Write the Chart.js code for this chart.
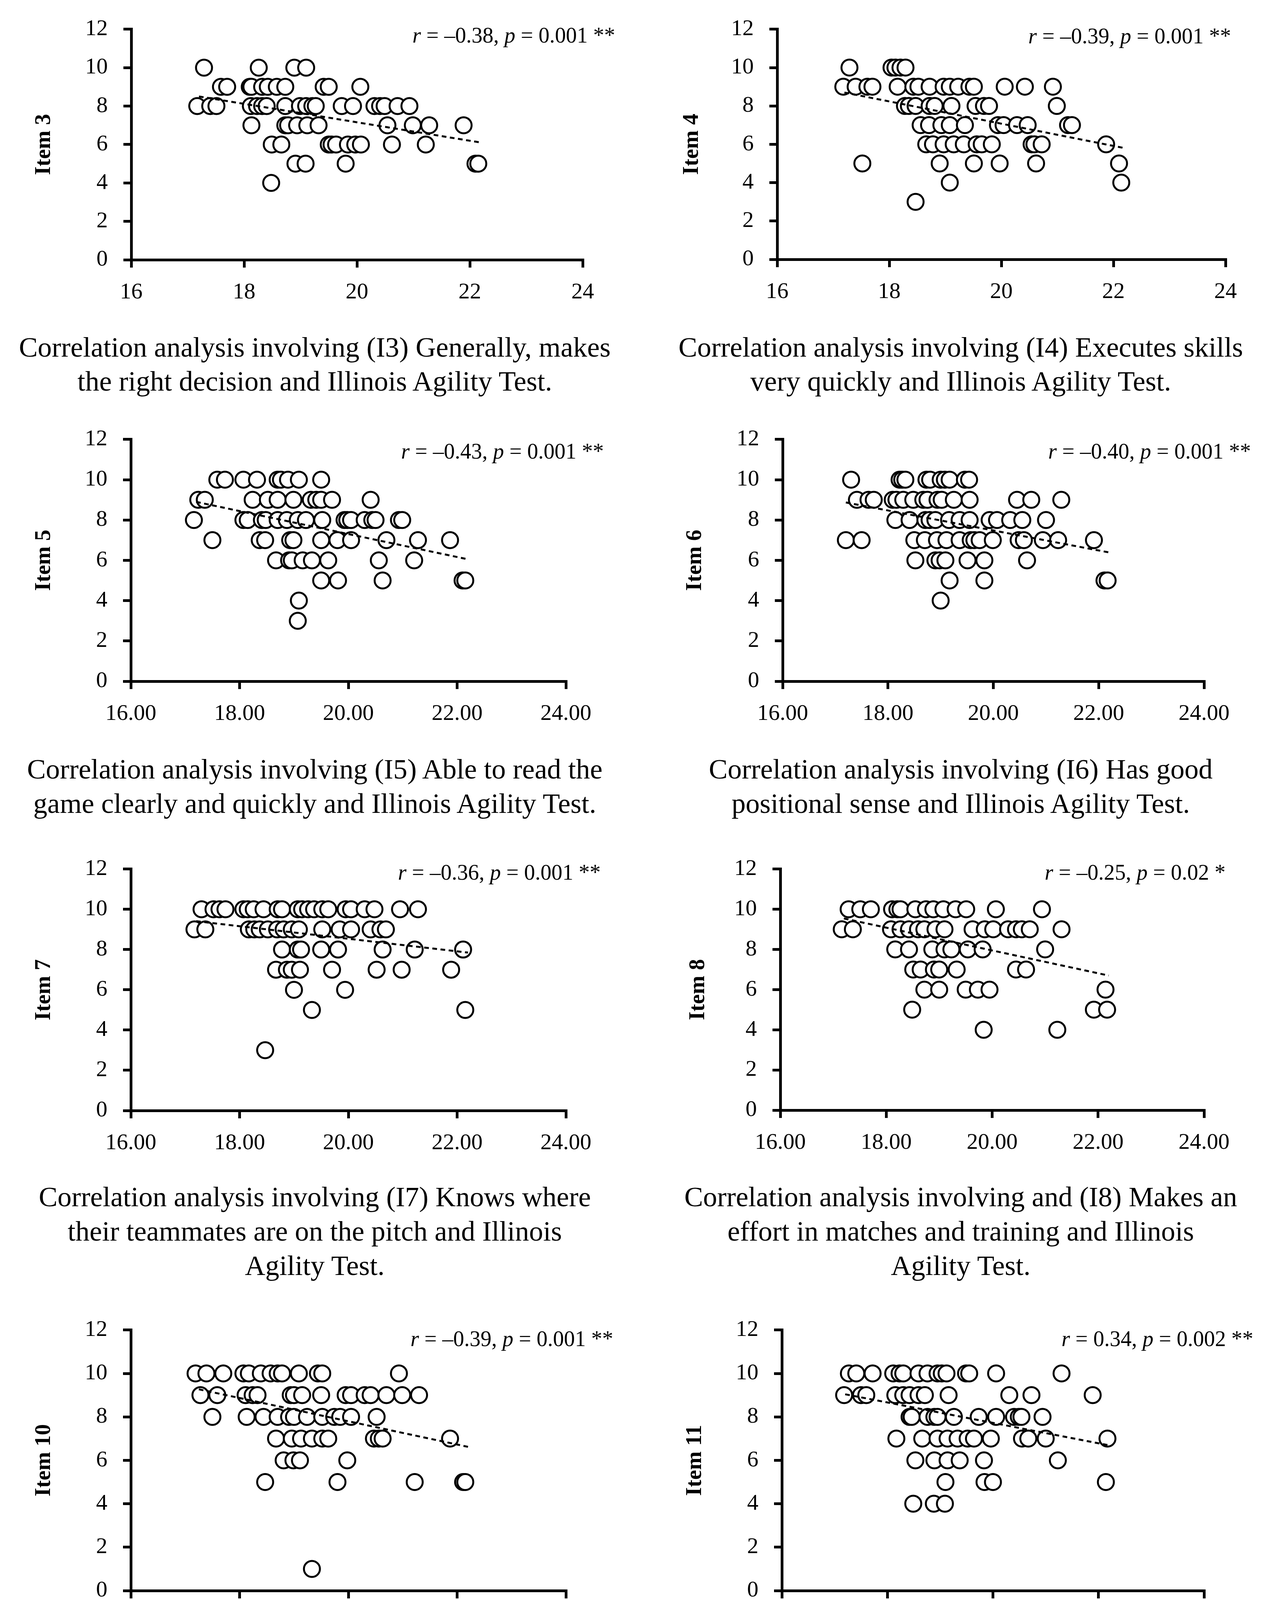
<!DOCTYPE html>
<html>
<head>
<meta charset="utf-8">
<script src="https://cdn.jsdelivr.net/npm/chart.js@4.4.0/dist/chart.umd.min.js"></script>
<style>
html, body { margin: 0; padding: 0; background: #fff; }
body { width: 3234px; height: 4547px; position: relative; overflow: hidden; font-family: 'Liberation Serif', serif; color: #000; }
.panel { position: absolute; }
.caption { position: absolute; width: 1640px; text-align: center; font-size: 72px; white-space: nowrap; }
.stat { position: absolute; font-size: 56px; line-height: 56px; white-space: nowrap; text-align: right; }
</style>
</head>
<body>
<script>
// Illinois Agility Test time (s) vs item score, one x/y pair of arrays per item
var item3X = [17.29, 18.26, 18.89, 19.10,
    17.59, 17.70, 18.10, 18.13, 18.32, 18.42, 18.58, 18.73, 19.41, 19.50, 20.06,
    17.17, 17.40, 17.51, 18.12, 18.23, 18.32, 18.40, 18.73, 18.99, 19.10, 19.21, 19.27, 19.73, 19.93, 20.31, 20.41, 20.49, 20.72, 20.93,
    18.13, 18.73, 18.78, 18.94, 19.12, 19.32, 20.54, 20.99, 21.28, 21.89,
    18.49, 18.66, 19.50, 19.55, 19.63, 19.84, 19.97, 20.07, 20.62, 21.22,
    18.91, 19.09, 19.80, 22.10, 22.15,
    18.48];
var item3Y = [10, 10, 10, 10,
    9, 9, 9, 9, 9, 9, 9, 9, 9, 9, 9,
    8, 8, 8, 8, 8, 8, 8, 8, 8, 8, 8, 8, 8, 8, 8, 8, 8, 8, 8,
    7, 7, 7, 7, 7, 7, 7, 7, 7, 7,
    6, 6, 6, 6, 6, 6, 6, 6, 6, 6,
    5, 5, 5, 5, 5,
    4];

var item4X = [17.29, 18.04, 18.11, 18.20, 18.29,
    17.18, 17.40, 17.61, 17.70, 18.15, 18.43, 18.52, 18.72, 18.97, 19.08, 19.23, 19.43, 19.51, 20.06, 20.42, 20.92,
    18.28, 18.35, 18.47, 18.72, 18.81, 19.11, 19.54, 19.69, 19.78, 20.99,
    18.56, 18.71, 18.93, 19.08, 19.35, 19.94, 20.04, 20.28, 20.47, 21.19, 21.26,
    18.66, 18.78, 18.97, 19.15, 19.33, 19.56, 19.65, 19.83, 20.54, 20.59, 20.72, 21.87,
    17.52, 18.90, 19.51, 19.97, 20.62, 22.10,
    19.08, 22.14,
    18.47];
var item4Y = [10, 10, 10, 10, 10,
    9, 9, 9, 9, 9, 9, 9, 9, 9, 9, 9, 9, 9, 9, 9, 9,
    8, 8, 8, 8, 8, 8, 8, 8, 8, 8,
    7, 7, 7, 7, 7, 7, 7, 7, 7, 7, 7,
    6, 6, 6, 6, 6, 6, 6, 6, 6, 6, 6, 6,
    5, 5, 5, 5, 5, 5,
    4, 4,
    3];

var item5X = [17.59, 17.73, 18.07, 18.32, 18.70, 18.76, 18.89, 19.09, 19.50,
    17.24, 17.36, 18.24, 18.52, 18.70, 18.99, 19.31, 19.41, 19.50, 19.70, 20.41,
    17.16, 18.07, 18.15, 18.41, 18.48, 18.70, 18.87, 19.07, 19.22, 19.52, 19.93, 19.98, 20.05, 20.30, 20.44, 20.50, 20.93, 20.99,
    17.50, 18.37, 18.47, 18.93, 18.99, 19.50, 19.80, 20.05, 20.70, 21.28, 21.87,
    18.67, 18.91, 18.96, 19.16, 19.33, 19.63, 20.56, 21.21,
    19.50, 19.81, 20.63, 22.10, 22.15,
    19.09,
    19.07];
var item5Y = [10, 10, 10, 10, 10, 10, 10, 10, 10,
    9, 9, 9, 9, 9, 9, 9, 9, 9, 9, 9,
    8, 8, 8, 8, 8, 8, 8, 8, 8, 8, 8, 8, 8, 8, 8, 8, 8, 8,
    7, 7, 7, 7, 7, 7, 7, 7, 7, 7, 7,
    6, 6, 6, 6, 6, 6, 6, 6,
    5, 5, 5, 5, 5,
    4,
    3];

var item6X = [17.30, 18.22, 18.27, 18.33, 18.73, 18.80, 19.00, 19.08, 19.17, 19.46, 19.54,
    17.41, 17.63, 17.73, 18.09, 18.16, 18.29, 18.48, 18.67, 18.75, 18.94, 19.02, 19.25, 19.55, 20.45, 20.72, 21.29,
    18.14, 18.41, 18.71, 18.79, 18.90, 19.16, 19.36, 19.55, 19.93, 20.07, 20.32, 20.55, 21.00,
    17.20, 17.50, 18.50, 18.70, 18.93, 19.11, 19.36, 19.57, 19.64, 19.74, 19.99, 20.48, 20.58, 20.94, 21.23, 21.91,
    18.52, 18.90, 18.98, 19.09, 19.51, 19.83, 20.64,
    19.17, 19.83, 22.11, 22.17,
    19.00];
var item6Y = [10, 10, 10, 10, 10, 10, 10, 10, 10, 10, 10,
    9, 9, 9, 9, 9, 9, 9, 9, 9, 9, 9, 9, 9, 9, 9, 9,
    8, 8, 8, 8, 8, 8, 8, 8, 8, 8, 8, 8, 8,
    7, 7, 7, 7, 7, 7, 7, 7, 7, 7, 7, 7, 7, 7, 7, 7,
    6, 6, 6, 6, 6, 6, 6,
    5, 5, 5, 5,
    4];

var item7X = [17.30, 17.52, 17.63, 17.74, 18.07, 18.15, 18.26, 18.44, 18.70, 18.78, 19.07, 19.15, 19.26, 19.37, 19.52, 19.63, 19.95, 20.05, 20.30, 20.48, 20.95, 21.28,
    17.17, 17.37, 18.17, 18.27, 18.37, 18.52, 18.69, 18.81, 18.96, 19.09, 19.52, 19.84, 20.05, 20.41, 20.59, 20.69,
    18.78, 19.07, 19.13, 19.50, 19.81, 20.63, 21.22, 22.11,
    18.67, 18.87, 18.96, 19.11, 19.70, 20.52, 20.98, 21.89,
    19.00, 19.94,
    19.33, 22.15,
    18.47];
var item7Y = [10, 10, 10, 10, 10, 10, 10, 10, 10, 10, 10, 10, 10, 10, 10, 10, 10, 10, 10, 10, 10, 10,
    9, 9, 9, 9, 9, 9, 9, 9, 9, 9, 9, 9, 9, 9, 9, 9,
    8, 8, 8, 8, 8, 8, 8, 8,
    7, 7, 7, 7, 7, 7, 7, 7,
    6, 6,
    5, 5,
    3];

var item8X = [17.29, 17.51, 17.71, 18.11, 18.21, 18.27, 18.55, 18.75, 18.89, 19.08, 19.31, 19.51, 20.07, 20.94,
    17.16, 17.37, 18.09, 18.27, 18.43, 18.60, 18.72, 18.93, 19.10, 19.63, 19.86, 20.02, 20.30, 20.45, 20.56, 20.71, 21.31,
    18.17, 18.43, 18.87, 19.10, 19.23, 19.54, 19.82, 21.00,
    18.51, 18.65, 18.90, 19.00, 19.33, 20.45, 20.64,
    18.72, 19.00, 19.50, 19.73, 19.95, 22.14,
    18.49, 21.92, 22.17,
    19.84, 21.23];
var item8Y = [10, 10, 10, 10, 10, 10, 10, 10, 10, 10, 10, 10, 10, 10,
    9, 9, 9, 9, 9, 9, 9, 9, 9, 9, 9, 9, 9, 9, 9, 9, 9,
    8, 8, 8, 8, 8, 8, 8, 8,
    7, 7, 7, 7, 7, 7, 7,
    6, 6, 6, 6, 6, 6,
    5, 5, 5,
    4, 4];

var item10X = [17.19, 17.39, 17.70, 18.07, 18.17, 18.39, 18.57, 18.70, 18.78, 19.09, 19.44, 19.52, 20.93,
    17.28, 17.59, 18.11, 18.24, 18.33, 18.94, 19.00, 19.15, 19.50, 19.95, 20.05, 20.30, 20.41, 20.70, 20.99, 21.30,
    17.50, 18.13, 18.44, 18.70, 18.91, 19.00, 19.24, 19.52, 19.74, 19.85, 20.05, 20.52,
    18.67, 18.96, 19.13, 19.33, 19.52, 19.63, 20.47, 20.56, 20.63, 21.87,
    18.81, 18.99, 19.11, 19.98,
    18.47, 19.80, 21.22, 22.11, 22.15,
    19.33];
var item10Y = [10, 10, 10, 10, 10, 10, 10, 10, 10, 10, 10, 10, 10,
    9, 9, 9, 9, 9, 9, 9, 9, 9, 9, 9, 9, 9, 9, 9, 9,
    8, 8, 8, 8, 8, 8, 8, 8, 8, 8, 8, 8,
    7, 7, 7, 7, 7, 7, 7, 7, 7, 7,
    6, 6, 6, 6,
    5, 5, 5, 5, 5,
    1];

var item11X = [17.27, 17.41, 17.72, 18.11, 18.23, 18.30, 18.59, 18.76, 18.95, 19.03, 19.12, 19.49, 19.55, 20.06, 21.30,
    17.18, 17.50, 17.60, 18.15, 18.30, 18.42, 18.59, 18.71, 19.16, 20.31, 20.73, 21.89,
    18.42, 18.46, 18.76, 18.89, 18.95, 19.26, 19.73, 20.06, 20.40, 20.49, 20.54, 20.94,
    18.17, 18.66, 18.95, 19.14, 19.33, 19.52, 19.64, 19.96, 20.55, 20.67, 21.00, 22.17,
    18.53, 18.89, 19.14, 19.37, 19.83, 21.23,
    19.10, 19.84, 20.00, 22.14,
    18.49, 18.88, 19.09];
var item11Y = [10, 10, 10, 10, 10, 10, 10, 10, 10, 10, 10, 10, 10, 10, 10,
    9, 9, 9, 9, 9, 9, 9, 9, 9, 9, 9, 9,
    8, 8, 8, 8, 8, 8, 8, 8, 8, 8, 8, 8,
    7, 7, 7, 7, 7, 7, 7, 7, 7, 7, 7, 7,
    6, 6, 6, 6, 6, 6,
    5, 5, 5, 5,
    4, 4, 4];

// dashed trend lines, end points
var trend3X = [17.20, 22.20], trend3Y = [8.50, 6.10];
var trend4X = [17.20, 22.20], trend4Y = [8.70, 5.80];
var trend5X = [17.20, 22.20], trend5Y = [8.90, 6.05];
var trend6X = [17.20, 22.20], trend6Y = [8.87, 6.39];
var trend7X = [17.20, 22.20], trend7Y = [9.41, 7.85];
var trend8X = [17.20, 22.20], trend8Y = [9.54, 6.70];
var trend10X = [17.25, 22.20], trend10Y = [9.27, 6.62];
var trend11X = [17.20, 22.20], trend11Y = [9.04, 6.69];

// tick labels
var xTicksWhole = ['16', '18', '20', '22', '24'];
var xTicksFixed = ['16.00', '18.00', '20.00', '22.00', '24.00'];

var itemNames = ['Item 3', 'Item 4', 'Item 5', 'Item 6', 'Item 7', 'Item 8', 'Item 10', 'Item 11'];

var statTexts = [
    '<i>r</i> = \u20130.38, <i>p</i> = 0.001 **',
    '<i>r</i> = \u20130.39, <i>p</i> = 0.001 **',
    '<i>r</i> = \u20130.43, <i>p</i> = 0.001 **',
    '<i>r</i> = \u20130.40, <i>p</i> = 0.001 **',
    '<i>r</i> = \u20130.36, <i>p</i> = 0.001 **',
    '<i>r</i> = \u20130.25, <i>p</i> = 0.02 *',
    '<i>r</i> = \u20130.39, <i>p</i> = 0.001 **',
    '<i>r</i> = 0.34, <i>p</i> = 0.002 **'
];

var captions = [
    ['Correlation analysis involving (I3) Generally, makes', 'the right decision and Illinois Agility Test.'],
    ['Correlation analysis involving (I4) Executes skills', 'very quickly and Illinois Agility Test.'],
    ['Correlation analysis involving (I5) Able to read the', 'game clearly and quickly and Illinois Agility Test.'],
    ['Correlation analysis involving (I6) Has good', 'positional sense and Illinois Agility Test.'],
    ['Correlation analysis involving (I7) Knows where', 'their teammates are on the pitch and Illinois', 'Agility Test.'],
    ['Correlation analysis involving and (I8) Makes an', 'effort in matches and training and Illinois', 'Agility Test.'],
    ['Correlation analysis involving (I10) Able to', 'concentrate in matches and training and Illinois', 'Agility Test.'],
    ['Correlation analysis involving (I11) Possesses a', 'winning mentality and Illinois Agility Test.']
];

// page layout (pixels): panel box, plot area, caption and stat positions
var layout = [
    {left: 0,    top: 0,    h: 805, plotL: 336,  plotR: 1492, plotT: 50,   plotB: 665,  titleX: 113, capX: 806,  capY: 889,  capLH: 87, statR: 1575, statY: 90},
    {left: 1617, top: 0,    h: 805, plotL: 1990, plotR: 3138, plotT: 50,   plotB: 664,  titleX: 1772, capX: 2460, capY: 889,  capLH: 87, statR: 3152, statY: 92},
    {left: 0,    top: 1050, h: 835, plotL: 335,  plotR: 1449, plotT: 1112, plotB: 1744, titleX: 113, capX: 806,  capY: 1969, capLH: 88, statR: 1546, statY: 1155},
    {left: 1617, top: 1050, h: 835, plotL: 2004, plotR: 3083, plotT: 1112, plotB: 1744, titleX: 1780, capX: 2460, capY: 1969, capLH: 88, statR: 3203, statY: 1155},
    {left: 0,    top: 2150, h: 834, plotL: 335,  plotR: 1449, plotT: 2191, plotB: 2843, titleX: 113, capX: 806,  capY: 3064, capLH: 88, statR: 1538, statY: 2233},
    {left: 1617, top: 2150, h: 833, plotL: 1998, plotR: 3083, plotT: 2191, plotB: 2842, titleX: 1788, capX: 2460, capY: 3064, capLH: 88, statR: 3138, statY: 2233},
    {left: 0,    top: 3330, h: 883, plotL: 335,  plotR: 1449, plotT: 3380, plotB: 4072, titleX: 113, capX: 806,  capY: 4295, capLH: 88, statR: 1570, statY: 3427},
    {left: 1617, top: 3330, h: 883, plotL: 2002, plotR: 3083, plotT: 3380, plotB: 4072, titleX: 1780, capX: 2460, capY: 4340, capLH: 88, statR: 3209, statY: 3427}
];
var panelW = 1617;

var allX = [item3X, item4X, item5X, item6X, item7X, item8X, item10X, item11X];
var allY = [item3Y, item4Y, item5Y, item6Y, item7Y, item8Y, item10Y, item11Y];
var allTX = [trend3X, trend4X, trend5X, trend6X, trend7X, trend8X, trend10X, trend11X];
var allTY = [trend3Y, trend4Y, trend5Y, trend6Y, trend7Y, trend8Y, trend10Y, trend11Y];

function toPoints(xs, ys) {
    return xs.map(function (x, k) { return {x: x, y: ys[k]}; });
}

function makePanel(i) {
    var L = layout[i];
    var div = document.createElement('div');
    div.className = 'panel';
    div.style.left = L.left + 'px';
    div.style.top = L.top + 'px';
    div.style.width = panelW + 'px';
    div.style.height = L.h + 'px';
    var canvas = document.createElement('canvas');
    canvas.width = panelW;
    canvas.height = L.h;
    canvas.style.width = panelW + 'px';
    canvas.style.height = L.h + 'px';
    div.appendChild(canvas);
    document.body.appendChild(div);

    var yW = L.plotL - L.left;
    var xH = L.top + L.h - L.plotB;
    var padTop = L.plotT - L.top;
    var padRight = L.left + panelW - L.plotR;
    var xLabels = i < 2 ? xTicksWhole : xTicksFixed;
    var tickFont = {family: 'Liberation Serif', size: 58};
    var titleFont = {family: 'Liberation Serif', size: 57, weight: 'bold'};

    new Chart(canvas, {
        type: 'scatter',
        data: {
            datasets: [{
                type: 'line',
                data: toPoints(allTX[i], allTY[i]),
                borderColor: '#000',
                borderWidth: 5,
                borderDash: [12, 9],
                pointRadius: 0,
                fill: false,
                order: 0
            }, {
                data: toPoints(allX[i], allY[i]),
                pointRadius: 20.5,
                pointHoverRadius: 20.5,
                pointBackgroundColor: '#fff',
                pointBorderColor: '#000',
                pointBorderWidth: 5,
                order: 1
            }]
        },
        options: {
            responsive: false,
            animation: false,
            devicePixelRatio: 1,
            events: [],
            layout: {padding: {left: 0, top: padTop, right: padRight, bottom: 0}, autoPadding: false},
            plugins: {legend: {display: false}, tooltip: {enabled: false}},
            scales: {
                x: {
                    type: 'linear', min: 16, max: 24,
                    afterFit: function (s) { s.height = xH; },
                    ticks: {
                        stepSize: 2, color: '#000', font: tickFont, padding: 29, maxRotation: 0,
                        callback: function (v, k) { return xLabels[k]; }
                    },
                    grid: {display: true, drawOnChartArea: false, drawTicks: true, tickLength: 20, color: '#000', lineWidth: 7},
                    border: {display: true, color: '#000', width: 7}
                },
                y: {
                    type: 'linear', min: 0, max: 12,
                    afterFit: function (s) { s.width = yW; },
                    ticks: {stepSize: 2, color: '#000', font: tickFont, padding: 40},
                    grid: {display: true, drawOnChartArea: false, drawTicks: true, tickLength: 20, color: '#000', lineWidth: 7},
                    border: {display: true, color: '#000', width: 7},
                    title: {
                        display: true, text: itemNames[i], color: '#000', font: titleFont,
                        padding: {top: L.titleX - L.left - 34, bottom: 0}
                    }
                }
            }
        }
    });

    var stat = document.createElement('div');
    stat.className = 'stat';
    stat.innerHTML = statTexts[i];
    stat.style.right = (3234 - L.statR) + 'px';
    stat.style.top = (L.statY - 28) + 'px';
    document.body.appendChild(stat);

    var cap = document.createElement('div');
    cap.className = 'caption';
    cap.style.left = (L.capX - 820) + 'px';
    cap.style.top = (L.capY - L.capLH / 2) + 'px';
    cap.style.lineHeight = L.capLH + 'px';
    cap.innerHTML = captions[i].join('<br>');
    document.body.appendChild(cap);
}

for (var i = 0; i < layout.length; i++) {
    makePanel(i);
}
</script>
</body>
</html>
